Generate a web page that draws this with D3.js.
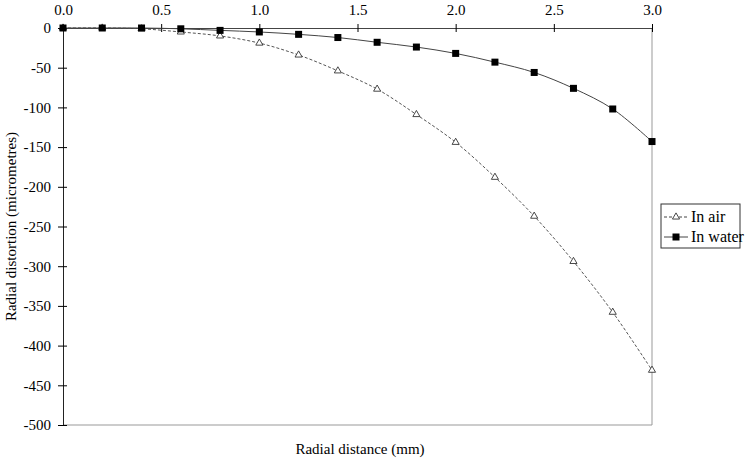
<!DOCTYPE html>
<html>
<head>
<meta charset="utf-8">
<script src="https://cdn.jsdelivr.net/npm/d3@7"></script>
<style>
  body { margin: 0; background: #fff; }
</style>
</head>
<body>
<div id="chart"></div>
<script>
const distances = [0, 0.2, 0.4, 0.6, 0.8, 1.0, 1.2, 1.4, 1.6, 1.8, 2.0, 2.2, 2.4, 2.6, 2.8, 3.0];
const inAir = [0, 0, -1, -5, -10, -19, -34, -54, -77, -109, -144, -188, -237, -294, -358, -431];
const inWater = [0, 0, 0, -1, -3, -5, -8, -12, -18, -24, -32, -43, -56, -76, -102, -143];
const xTicks = [0, 0.5, 1.0, 1.5, 2.0, 2.5, 3.0];
const yTicks = [0, -50, -100, -150, -200, -250, -300, -350, -400, -450, -500];

const FONT = "'Liberation Serif', 'Times New Roman', Times, serif";

const width = 749, height = 460;
const margin = { top: 28, left: 63, right: 97, bottom: 35 };
const innerW = width - margin.left - margin.right;
const innerH = height - margin.top - margin.bottom;

const svg = d3.select("#chart").append("svg")
  .attr("width", width)
  .attr("height", height)
  .style("font-family", FONT);

const x = d3.scaleLinear().domain([0, 3]).range([margin.left, margin.left + innerW]);
const y = d3.scaleLinear().domain([-500, 0]).range([margin.top + innerH, margin.top]);

// right and bottom frame lines (gray)
svg.append("line")
  .attr("x1", x(3)).attr("x2", x(3))
  .attr("y1", y(0)).attr("y2", y(-500))
  .attr("stroke", "#999").attr("stroke-width", 1);
svg.append("line")
  .attr("x1", x(0)).attr("x2", x(3))
  .attr("y1", y(-500)).attr("y2", y(-500))
  .attr("stroke", "#999").attr("stroke-width", 1);

// x axis on top, ticks crossing the line
const xAxis = svg.append("g")
  .attr("transform", `translate(0,${y(0)})`)
  .call(d3.axisTop(x).tickValues(xTicks).tickFormat(d3.format(".1f")).tickSize(4).tickSizeOuter(0))
  .attr("font-family", FONT);
xAxis.selectAll(".tick line").attr("y2", 4).attr("y1", -4);
xAxis.selectAll(".tick text").attr("y", -13).style("font-size", "15px");
xAxis.select(".domain").attr("stroke", "#444");

// y axis
const yAxis = svg.append("g")
  .attr("transform", `translate(${x(0)},0)`)
  .call(d3.axisLeft(y).tickValues(yTicks).tickSize(4).tickSizeOuter(0))
  .attr("font-family", FONT);
yAxis.selectAll(".tick line").attr("x1", 4).attr("x2", -5);
yAxis.selectAll(".tick text").attr("x", -12).style("font-size", "15px")
  .text(d => String(d));
yAxis.select(".domain").attr("stroke", "#222");

const airData = distances.map((d, i) => [d, inAir[i]]);
const waterData = distances.map((d, i) => [d, inWater[i]]);

const line = d3.line()
  .x(d => x(d[0]))
  .y(d => y(d[1]))
  .curve(d3.curveCatmullRom.alpha(0.5));

svg.append("path")
  .datum(airData)
  .attr("fill", "none")
  .attr("stroke", "#555")
  .attr("stroke-width", 1)
  .attr("stroke-dasharray", "3,2")
  .attr("d", line);

svg.append("path")
  .datum(waterData)
  .attr("fill", "none")
  .attr("stroke", "#444")
  .attr("stroke-width", 1)
  .attr("d", line);

const tri = d3.symbol().type(d3.symbolTriangle).size(22);

svg.selectAll(".air-pt")
  .data(airData)
  .enter().append("path")
  .attr("class", "air-pt")
  .attr("transform", d => `translate(${x(d[0])},${y(d[1])})`)
  .attr("d", tri)
  .attr("fill", "#fff")
  .attr("stroke", "#333")
  .attr("stroke-width", 0.9);

svg.selectAll(".water-pt")
  .data(waterData)
  .enter().append("rect")
  .attr("class", "water-pt")
  .attr("x", d => x(d[0]) - 3.5)
  .attr("y", d => y(d[1]) - 3.5)
  .attr("width", 7)
  .attr("height", 7)
  .attr("fill", "#000");

// axis titles
svg.append("text")
  .attr("x", 360)
  .attr("y", 454)
  .attr("text-anchor", "middle")
  .style("font-size", "15px")
  .text("Radial distance (mm)");

svg.append("text")
  .attr("transform", `translate(16,${(y(0) + y(-500)) / 2}) rotate(-90)`)
  .attr("text-anchor", "middle")
  .style("font-size", "15px")
  .text("Radial distortion (micrometres)");

// legend
const legend = svg.append("g").attr("transform", "translate(661,204)");
legend.append("rect")
  .attr("width", 79).attr("height", 44)
  .attr("fill", "#fff").attr("stroke", "#333").attr("stroke-width", 1);

const items = [
  { name: "In air", dash: "3,2", marker: "tri" },
  { name: "In water", dash: null, marker: "sq" }
];
items.forEach((it, i) => {
  const g = legend.append("g").attr("transform", `translate(0,${13 + i * 20})`);
  g.append("line")
    .attr("x1", 3).attr("x2", 27)
    .attr("stroke", "#444")
    .attr("stroke-dasharray", it.dash);
  if (it.marker === "tri") {
    g.append("path").attr("transform", "translate(15,0)").attr("d", tri)
      .attr("fill", "#fff").attr("stroke", "#333").attr("stroke-width", 0.9);
  } else {
    g.append("rect").attr("x", 11.5).attr("y", -3.5).attr("width", 7).attr("height", 7).attr("fill", "#000");
  }
  g.append("text")
    .attr("x", 30).attr("y", 5)
    .style("font-size", "16px")
    .text(it.name);
});
</script>
</body>
</html>
